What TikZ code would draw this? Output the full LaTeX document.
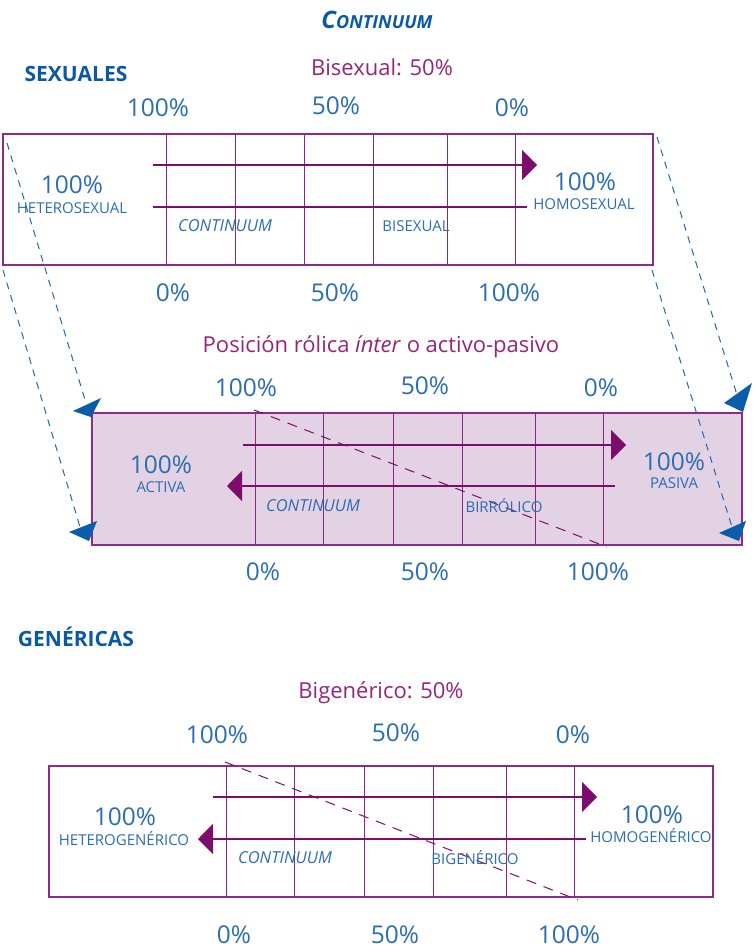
\documentclass[tikz,border=0pt]{standalone}
\usepackage{fontspec}
\setmainfont{Open Sans}
\usetikzlibrary{arrows.meta}
\definecolor{blueT}{HTML}{2A6DB3}
\definecolor{titleB}{HTML}{0A58A6}
\definecolor{magT}{HTML}{962578}
\definecolor{arrC}{HTML}{7C0D6B}
\definecolor{frameC}{HTML}{8E2A88}
\definecolor{gridC}{HTML}{8A2486}
\definecolor{fillC}{HTML}{E3D2E3}
\definecolor{dashB}{HTML}{2068B6}
\definecolor{triB}{HTML}{0B5CAB}
\begin{document}
\begin{tikzpicture}[x=1pt,y=-1pt,
  lbl/.style={text=blueT,font=\fontsize{24.5}{28}\selectfont,inner sep=0pt},
  smalllbl/.style={text=blueT,font=\fontsize{15}{17}\selectfont,inner sep=0pt},
  itlbl/.style={text=blueT,font=\fontsize{16.5}{18}\selectfont\itshape,inner sep=0pt},
  sublbl/.style={text=magT,font=\fontsize{22}{26}\selectfont,inner sep=0pt},
  headlbl/.style={text=titleB,font=\fontsize{21}{24}\selectfont\bfseries,inner sep=0pt},
  gridline/.style={draw=gridC,line width=0.9pt},
  framebox/.style={draw=frameC,line width=1.6pt},
  parr/.style={draw=arrC,line width=1.6pt,-{Triangle[length=15pt,width=30pt]}},
  pline/.style={draw=arrC,line width=1.6pt},
  bdash/.style={draw=dashB,line width=1pt,dash pattern=on 7pt off 6pt},
  pdash/.style={draw=arrC,line width=1pt,dash pattern=on 10pt off 8pt},
  tri/.style={fill=triB}]
\useasboundingbox (0,0) rectangle (754,952);

% ---------- titles ----------
\node[text=titleB,inner sep=0pt] (title) at (377,20)
  {\fontsize{24}{28}\selectfont\bfseries\itshape C\fontsize{18}{22}\selectfont ONTINUUM};
\node[headlbl] (sex) at (76,74) {SEXUALES};
\node[sublbl] (bis) at (382,67) {Bisexual: 50\%};

% ---------- top box ----------
\coordinate (t1) at (3,134);
\coordinate (t2) at (653,265);
\draw[framebox] (t1) rectangle (t2);
\foreach \x in {166,235,304,373,447,515}
  \draw[gridline] (\x,134) -- (\x,265);
\coordinate (ta1) at (153,165);
\coordinate (ta2) at (537,165);
\coordinate (tb1) at (153,207);
\coordinate (tb2) at (527,207);
\draw[parr] (ta1) -- (ta2);
\draw[pline] (tb1) -- (tb2);

\node[lbl] (tt1) at (158,108) {100\%};
\node[lbl] (tt2) at (336,106) {50\%};
\node[lbl] (tt3) at (512,108) {0\%};
\node[lbl] (tb1l) at (173,293) {0\%};
\node[lbl] (tb2l) at (335,293) {50\%};
\node[lbl] (tb3l) at (509,293) {100\%};
\node[lbl] (th1) at (72,185) {100\%};
\node[smalllbl] (th2) at (72,208) {HETEROSEXUAL};
\node[lbl] (tho1) at (585,182) {100\%};
\node[smalllbl] (tho2) at (584,204) {HOMOSEXUAL};
\node[itlbl] (tc) at (225,226) {CONTINUUM};
\node[smalllbl] (tbs) at (416,226) {BISEXUAL};

% ---------- middle box ----------
\node[sublbl] (pos) at (381,347) {Posición rólica \textit{ínter} o activo-pasivo};
\coordinate (m1) at (92,413);
\coordinate (m2) at (742,545);
\draw[framebox,fill=fillC] (m1) rectangle (m2);
\foreach \x in {255,323,393,462,535,603}
  \draw[gridline] (\x,413) -- (\x,545);
\coordinate (ma1) at (243,445);
\coordinate (ma2) at (626,445);
\coordinate (mb1) at (615,486);
\coordinate (mb2) at (227,486);
\draw[parr] (ma1) -- (ma2);
\draw[parr] (mb1) -- (mb2);
\coordinate (md1) at (254,410);
\coordinate (md2) at (607,547);
\draw[pdash] (md1) -- (md2);

\node[lbl] (mt1) at (246,388) {100\%};
\node[lbl] (mt2) at (425,386) {50\%};
\node[lbl] (mt3) at (601,388) {0\%};
\node[lbl] (mb1l) at (263,572) {0\%};
\node[lbl] (mb2l) at (425,572) {50\%};
\node[lbl] (mb3l) at (598,572) {100\%};
\node[lbl] (ma) at (161,465) {100\%};
\node[smalllbl] (mact) at (161,487) {ACTIVA};
\node[lbl] (mp) at (674,462) {100\%};
\node[smalllbl] (mpas) at (674,483) {PASIVA};
\node[itlbl] (mc) at (313,506) {CONTINUUM};
\node[smalllbl] (mbr) at (504,506) {BIRRÓLICO};

% ---------- blue dashed projections ----------
\coordinate (p1s) at (7,143);   \coordinate (p1e) at (86,403);
\coordinate (p2s) at (3,270);   \coordinate (p2e) at (80,527);
\coordinate (p3s) at (657,137); \coordinate (p3e) at (737,395);
\coordinate (p4s) at (652,270); \coordinate (p4e) at (732,527);
\draw[bdash] (p1s) -- (p1e);
\draw[bdash] (p2s) -- (p2e);
\draw[bdash] (p3s) -- (p3e);
\draw[bdash] (p4s) -- (p4e);
\fill[tri] (73,411) -- ++(28,-13) -- ++(-10,19) -- cycle;
\fill[tri] (69,532) -- ++(28,-11) -- ++(-8,20) -- cycle;
\fill[tri] (724,403) -- ++(28,-20) -- ++(-9,29) -- cycle;
\fill[tri] (719,533) -- ++(27,-12) -- ++(-7,20) -- cycle;

% ---------- bottom section ----------
\node[headlbl] (gen) at (76,637) {GENÉRICAS};
\node[sublbl] (big) at (381,693) {Bigenérico: 50\%};
\coordinate (b1) at (49,766);
\coordinate (b2) at (713,897);
\draw[framebox] (b1) rectangle (b2);
\foreach \x in {226,294,364,433,506,574}
  \draw[gridline] (\x,766) -- (\x,897);
\coordinate (ba1) at (213,797);
\coordinate (ba2) at (597,797);
\coordinate (bb1) at (586,839);
\coordinate (bb2) at (198,839);
\draw[parr] (ba1) -- (ba2);
\draw[parr] (bb1) -- (bb2);
\coordinate (bd1) at (225,762);
\coordinate (bd2) at (578,900);
\draw[pdash] (bd1) -- (bd2);

\node[lbl] (bt1) at (217,735) {100\%};
\node[lbl] (bt2) at (396,733) {50\%};
\node[lbl] (bt3) at (573,735) {0\%};
\node[lbl] (bb1l) at (234,935) {0\%};
\node[lbl] (bb2l) at (395,935) {50\%};
\node[lbl] (bb3l) at (569,935) {100\%};
\node[lbl] (bh) at (125,817) {100\%};
\node[smalllbl] (bhet) at (124,839) {HETEROGENÉRICO};
\node[lbl] (bho) at (652,815) {100\%};
\node[smalllbl] (bhom) at (651,836) {HOMOGENÉRICO};
\node[itlbl] (bc) at (285,858) {CONTINUUM};
\node[smalllbl] (bbg) at (475,858) {BIGENÉRICO};
\end{tikzpicture}
\end{document}
